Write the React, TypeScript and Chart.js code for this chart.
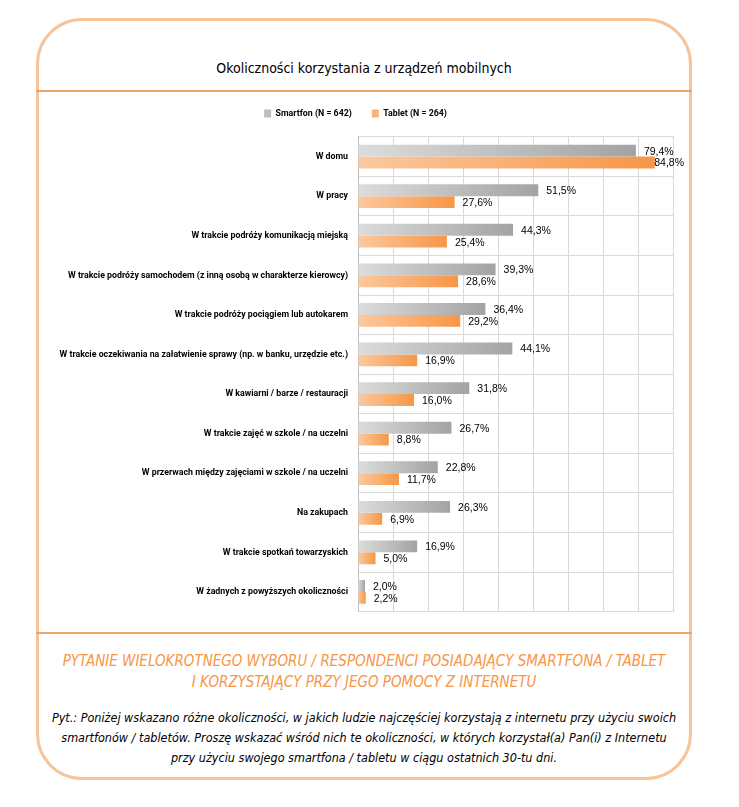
import React, { useEffect, useRef } from "react";
import { Chart, registerables } from "chart.js";

Chart.register(...registerables);

const categories: string[] = [
  "W domu",
  "W pracy",
  "W trakcie podróży komunikacją miejską",
  "W trakcie podróży samochodem (z inną osobą w charakterze kierowcy)",
  "W trakcie podróży pociągiem lub autokarem",
  "W trakcie oczekiwania na załatwienie sprawy (np. w banku, urzędzie etc.)",
  "W kawiarni / barze / restauracji",
  "W trakcie zajęć w szkole / na uczelni",
  "W przerwach między zajęciami w szkole / na uczelni",
  "Na zakupach",
  "W trakcie spotkań towarzyskich",
  "W żadnych z powyższych okoliczności",
];

const smartfonValues: number[] = [79.4, 51.5, 44.3, 39.3, 36.4, 44.1, 31.8, 26.7, 22.8, 26.3, 16.9, 2.0];
const tabletValues: number[] = [84.8, 27.6, 25.4, 28.6, 29.2, 16.9, 16.0, 8.8, 11.7, 6.9, 5.0, 2.2];

const seriesNames: string[] = ["Smartfon (N = 642)", "Tablet (N = 264)"];

const chartTitle = "Okoliczności korzystania z urządzeń mobilnych";
const noteOrange: string[] = [
  "PYTANIE WIELOKROTNEGO WYBORU / RESPONDENCI POSIADAJĄCY SMARTFONA / TABLET",
  "I KORZYSTAJĄCY PRZY JEGO POMOCY Z INTERNETU",
];
const noteBlack: string[] = [
  "Pyt.: Poniżej wskazano różne okoliczności, w jakich ludzie najczęściej korzystają z internetu przy użyciu swoich",
  "smartfonów / tabletów. Proszę wskazać wśród nich te okoliczności, w których korzystał(a) Pan(i) z Internetu",
  "przy użyciu swojego smartfona / tabletu w ciągu ostatnich 30-tu dni.",
];

const fmt = (v: number) => v.toFixed(1).replace(".", ",") + "%";

const labelFont = 'Roboto, "Liberation Sans", Arial, sans-serif';

function gradientFill(light: string, dark: string, fallback: string) {
  return (ctx: any) => {
    const chart = ctx.chart;
    const xs = chart.scales?.x;
    if (!chart.chartArea || !xs || ctx.dataIndex === undefined || ctx.parsed === undefined) return fallback;
    const v = ctx.parsed.x;
    const x0 = xs.getPixelForValue(0);
    const x1 = xs.getPixelForValue(v);
    if (!isFinite(x0) || !isFinite(x1) || x1 - x0 < 1) return fallback;
    const g = chart.ctx.createLinearGradient(x0, 0, x1, 0);
    g.addColorStop(0, light);
    g.addColorStop(1, dark);
    return g;
  };
}

const valueLabels = {
  id: "valueLabels",
  afterDatasetsDraw(chart: any) {
    const ctx = chart.ctx;
    ctx.save();
    ctx.font = '10.5px "Liberation Sans", Arial, sans-serif';
    ctx.fillStyle = "#000000";
    ctx.textBaseline = "middle";
    ctx.textAlign = "left";
    chart.data.datasets.forEach((ds: any, di: number) => {
      const meta = chart.getDatasetMeta(di);
      meta.data.forEach((bar: any, i: number) => {
        const txt = fmt(ds.data[i]);
        const w = ctx.measureText(txt).width;
        const x = Math.min(bar.x + 8, chart.width - w - 6);
        ctx.fillText(txt, x, bar.y + 1);
      });
    });
    ctx.restore();
  },
};

function BarChart() {
  const ref = useRef<HTMLCanvasElement | null>(null);
  useEffect(() => {
    if (!ref.current) return;
    const chart = new Chart(ref.current, {
      type: "bar",
      data: {
        labels: categories,
        datasets: [
          {
            label: seriesNames[0],
            data: smartfonValues,
            backgroundColor: gradientFill("#dcdcdc", "#a3a3a3", "#bdbdbd"),
            borderWidth: 0,
            categoryPercentage: 0.6,
            barPercentage: 1.0,
          },
          {
            label: seriesNames[1],
            data: tabletValues,
            backgroundColor: gradientFill("#fbc9a0", "#f79646", "#f9b27a"),
            borderWidth: 0,
            categoryPercentage: 0.6,
            barPercentage: 1.0,
          },
        ],
      },
      options: {
        indexAxis: "y",
        animation: false,
        responsive: false,
        maintainAspectRatio: false,
        layout: { padding: { top: 0, right: 17, bottom: 11, left: 0 } },
        plugins: {
          tooltip: { enabled: false },
          title: { display: false },
          legend: {
            display: true,
            position: "top",
            labels: {
              boxWidth: 7,
              boxHeight: 8,
              padding: 20,
              color: "#000000",
              font: { family: labelFont, size: 8.8, weight: "bold" },
              generateLabels: () => [
                { text: seriesNames[0], fillStyle: "#bdbdbd", strokeStyle: "#bdbdbd", lineWidth: 0, datasetIndex: 0, hidden: false },
                { text: seriesNames[1], fillStyle: "#f9b27a", strokeStyle: "#f9b27a", lineWidth: 0, datasetIndex: 1, hidden: false },
              ],
            },
          },
        },
        scales: {
          x: {
            position: "top",
            min: 0,
            max: 90,
            ticks: { display: false, stepSize: 10 },
            grid: { color: "#d9d9d9", drawTicks: false, lineWidth: 1 },
            border: { color: "#d9d9d9" },
            afterFit: (s: any) => {
              s.height = 9;
            },
          },
          y: {
            ticks: {
              color: "#000000",
              padding: 10,
              font: { family: labelFont, size: 8.8, weight: "bold" },
            },
            grid: { color: "#d9d9d9", drawTicks: false, offset: true },
            border: { color: "#bfbfbf" },
            afterFit: (s: any) => {
              s.width = 320;
            },
          },
        },
      },
      plugins: [valueLabels],
    });
    return () => chart.destroy();
  }, []);
  return <canvas ref={ref} width={652} height={538} style={{ width: 652, height: 538, display: "block" }} />;
}

export default function App() {
  const abs = (o: React.CSSProperties): React.CSSProperties => ({ position: "absolute", ...o });
  return (
    <div style={{ position: "relative", width: 739, height: 807 }}>
      <div
        style={abs({
          left: 28,
          top: 10,
          width: 650,
          height: 756,
          border: "3px solid #f8c497",
          borderRadius: 46,
          background: "#ffffff",
        })}
      />
      <div
        style={abs({
          left: 28,
          top: 52,
          width: 656,
          textAlign: "center",
          fontFamily: '"DejaVu Sans Condensed", "DejaVu Sans", sans-serif',
          fontSize: 14,
          color: "#000",
          whiteSpace: "nowrap",
        })}
      >
        {chartTitle}
      </div>
      <div style={abs({ left: 28, top: 82, width: 656, height: 2, background: "#eba56b" })} />
      <div style={abs({ left: 30, top: 81 })}>
        <BarChart />
      </div>
      <div style={abs({ left: 28, top: 624, width: 656, height: 2, background: "#eba56b" })} />
      <div
        style={abs({
          left: 28,
          top: 643,
          width: 656,
          textAlign: "center",
          fontFamily: '"DejaVu Sans Condensed", "DejaVu Sans", sans-serif',
          fontStyle: "italic",
          fontSize: 15,
          lineHeight: "21px",
          color: "#f79646",
          whiteSpace: "nowrap",
        })}
      >
        {noteOrange.map((l, i) => (
          <div key={i}>{l}</div>
        ))}
      </div>
      <div
        style={abs({
          left: 28,
          top: 700,
          width: 656,
          textAlign: "center",
          fontFamily: '"DejaVu Sans Condensed", "DejaVu Sans", sans-serif',
          fontStyle: "italic",
          fontSize: 12.5,
          lineHeight: "20px",
          color: "#000",
          whiteSpace: "nowrap",
        })}
      >
        {noteBlack.map((l, i) => (
          <div key={i}>{l}</div>
        ))}
      </div>
    </div>
  );
}
